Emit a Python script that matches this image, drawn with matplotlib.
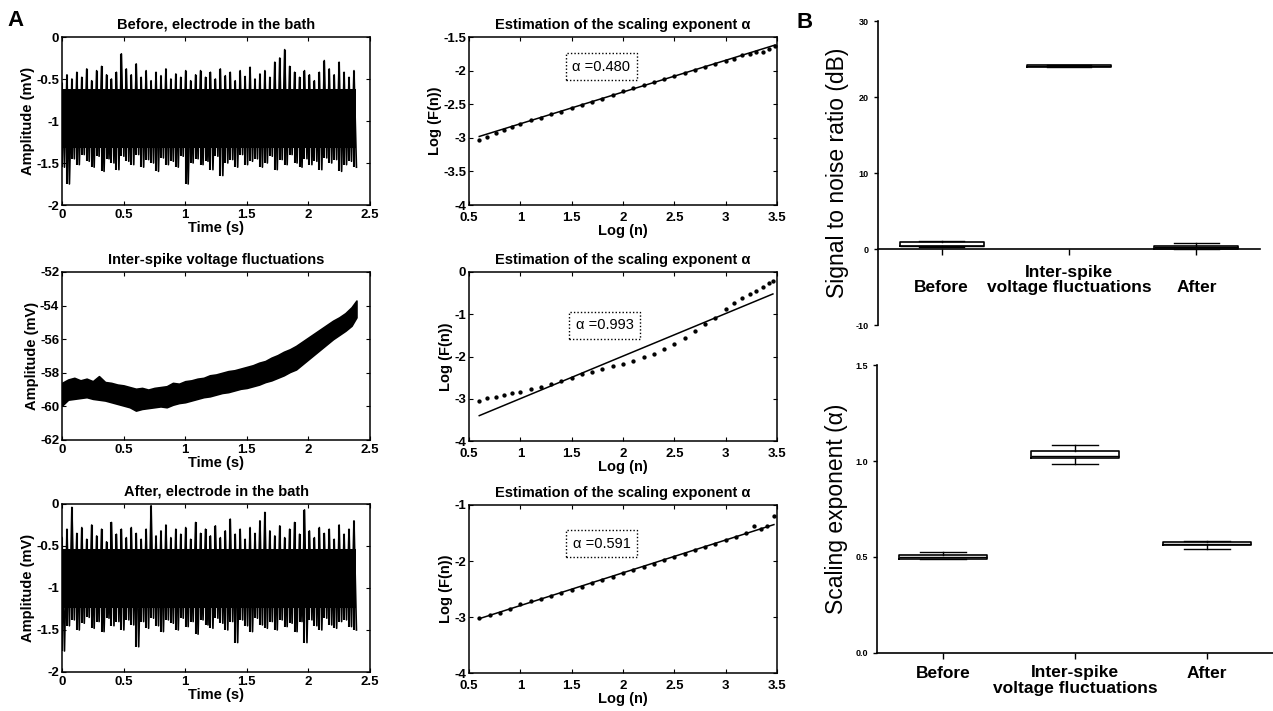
"""
Figure: noise traces + DFA scaling exponent (panel A), SNR / alpha box plots (panel B).
Values read off the reference picture.
"""
import matplotlib
matplotlib.use("Agg")
import matplotlib.pyplot as plt
import numpy as np

plt.rcParams["font.family"] = ["Liberation Sans", "DejaVu Sans"]

# ---- panel A, raw traces (mV) ----
TRACE_END = 2.39  # s
BEFORE_CORE = [-0.62, -1.32]
BEFORE_HI = [-0.55, -0.45, -0.50, -0.42, -0.48, -0.38, -0.52, -0.40, -0.35, -0.45,
             -0.50, -0.42, -0.20, -0.38, -0.45, -0.32, -0.48, -0.40, -0.52, -0.42,
             -0.46, -0.38, -0.50, -0.44, -0.48, -0.40, -0.52, -0.45, -0.40, -0.48,
             -0.42, -0.50, -0.38, -0.46, -0.42, -0.52, -0.40, -0.47, -0.36, -0.50,
             -0.44, -0.40, -0.48, -0.30, -0.25, -0.15, -0.35, -0.42, -0.48, -0.40,
             -0.45, -0.52, -0.42, -0.28, -0.38, -0.45, -0.30, -0.42, -0.48, -0.40]
BEFORE_LO = [-1.55, -1.75, -1.45, -1.52, -1.40, -1.48, -1.55, -1.42, -1.60, -1.45,
             -1.50, -1.58, -1.42, -1.48, -1.52, -1.40, -1.55, -1.46, -1.50, -1.60,
             -1.44, -1.52, -1.48, -1.55, -1.42, -1.75, -1.50, -1.45, -1.52, -1.48,
             -1.58, -1.42, -1.65, -1.50, -1.46, -1.55, -1.40, -1.52, -1.48, -1.45,
             -1.55, -1.50, -1.42, -1.58, -1.46, -1.52, -1.40, -1.50, -1.55, -1.45,
             -1.52, -1.48, -1.58, -1.44, -1.50, -1.46, -1.60, -1.52, -1.48, -1.55]

AFTER_CORE = [-0.53, -1.24]
AFTER_HI = [-0.40, -0.30, -0.04, -0.35, -0.28, -0.42, -0.25, -0.38, -0.30, -0.45,
            -0.22, -0.36, -0.30, -0.40, -0.28, -0.35, -0.42, -0.30, -0.02, -0.38,
            -0.32, -0.25, -0.40, -0.30, -0.36, -0.28, -0.42, -0.22, -0.35, -0.30,
            -0.38, -0.26, -0.40, -0.32, -0.18, -0.36, -0.30, -0.42, -0.28, -0.35,
            -0.20, -0.10, -0.32, -0.38, -0.26, -0.40, -0.30, -0.22, -0.36, -0.07,
            -0.32, -0.40, -0.28, -0.35, -0.30, -0.42, -0.25, -0.36, -0.30, -0.20]
AFTER_LO = [-1.75, -1.45, -1.38, -1.50, -1.42, -1.35, -1.48, -1.40, -1.52, -1.36,
            -1.45, -1.40, -1.50, -1.38, -1.44, -1.70, -1.40, -1.48, -1.36, -1.45,
            -1.52, -1.38, -1.42, -1.50, -1.36, -1.46, -1.40, -1.55, -1.38, -1.44,
            -1.48, -1.36, -1.42, -1.50, -1.40, -1.65, -1.38, -1.45, -1.52, -1.36,
            -1.44, -1.48, -1.40, -1.50, -1.38, -1.46, -1.42, -1.52, -1.40, -1.65,
            -1.38, -1.45, -1.50, -1.36, -1.44, -1.48, -1.40, -1.38, -1.46, -1.50]

# inter-spike trace, upper / lower envelope (mV)
ISI_T = [0.00, 0.05, 0.10, 0.15, 0.20, 0.25, 0.30, 0.35, 0.40, 0.45, 0.50, 0.55,
         0.60, 0.65, 0.70, 0.75, 0.80, 0.85, 0.90, 0.95, 1.00, 1.05, 1.10, 1.15,
         1.20, 1.25, 1.30, 1.35, 1.40, 1.45, 1.50, 1.55, 1.60, 1.65, 1.70, 1.75,
         1.80, 1.85, 1.90, 1.95, 2.00, 2.05, 2.10, 2.15, 2.20, 2.25, 2.30, 2.35, 2.39]
ISI_TOP = [-58.6, -58.4, -58.3, -58.45, -58.35, -58.5, -58.2, -58.55, -58.6, -58.7,
           -58.75, -58.85, -58.95, -58.9, -59.0, -58.9, -58.85, -58.8, -58.6, -58.65,
           -58.5, -58.45, -58.35, -58.3, -58.15, -58.1, -58.0, -57.9, -57.85, -57.75,
           -57.65, -57.55, -57.4, -57.3, -57.1, -56.95, -56.75, -56.6, -56.4, -56.15,
           -55.9, -55.65, -55.4, -55.15, -54.9, -54.7, -54.45, -54.1, -53.7]
ISI_BOT = [-59.95, -59.6, -59.55, -59.5, -59.45, -59.55, -59.6, -59.65, -59.75, -59.85,
           -59.95, -60.05, -60.25, -60.15, -60.1, -60.05, -60.0, -60.05, -59.9, -59.8,
           -59.75, -59.65, -59.55, -59.45, -59.4, -59.3, -59.2, -59.15, -59.05, -58.95,
           -58.9, -58.8, -58.7, -58.55, -58.45, -58.3, -58.15, -57.95, -57.8, -57.5,
           -57.2, -56.9, -56.6, -56.3, -56.0, -55.75, -55.5, -55.2, -54.7]

# ---- panel A, DFA: log(n) vs log(F(n)) ----
DFA1_X = [0.60, 0.68, 0.76, 0.84, 0.92, 1.00, 1.10, 1.20, 1.30, 1.40, 1.50, 1.60,
          1.70, 1.80, 1.90, 2.00, 2.10, 2.20, 2.30, 2.40, 2.50, 2.60, 2.70, 2.80,
          2.90, 3.00, 3.08, 3.16, 3.24, 3.30, 3.36, 3.42, 3.48]
DFA1_Y = [-3.04, -2.99, -2.93, -2.88, -2.84, -2.80, -2.74, -2.70, -2.65, -2.61,
          -2.56, -2.51, -2.47, -2.42, -2.37, -2.31, -2.26, -2.22, -2.17, -2.13,
          -2.08, -2.04, -1.99, -1.94, -1.90, -1.86, -1.82, -1.77, -1.76, -1.73,
          -1.72, -1.68, -1.64]
FIT1_X, FIT1_Y = [0.60, 3.48], [-2.98, -1.62]

DFA2_X = [0.60, 0.68, 0.76, 0.84, 0.92, 1.00, 1.10, 1.20, 1.30, 1.40, 1.50, 1.60,
          1.70, 1.80, 1.90, 2.00, 2.10, 2.20, 2.30, 2.40, 2.50, 2.60, 2.70, 2.80,
          2.90, 3.00, 3.08, 3.16, 3.24, 3.30, 3.36, 3.42, 3.46]
DFA2_Y = [-3.05, -2.99, -2.95, -2.91, -2.87, -2.83, -2.78, -2.72, -2.65, -2.57,
          -2.50, -2.42, -2.36, -2.30, -2.23, -2.17, -2.10, -2.02, -1.93, -1.83,
          -1.71, -1.56, -1.40, -1.24, -1.08, -0.88, -0.74, -0.62, -0.52, -0.45,
          -0.36, -0.27, -0.22]
FIT2_X, FIT2_Y = [0.60, 3.46], [-3.40, -0.52]

DFA3_X = [0.60, 0.70, 0.80, 0.90, 1.00, 1.10, 1.20, 1.30, 1.40, 1.50, 1.60, 1.70,
          1.80, 1.90, 2.00, 2.10, 2.20, 2.30, 2.40, 2.50, 2.60, 2.70, 2.80, 2.90,
          3.00, 3.10, 3.20, 3.28, 3.34, 3.40, 3.47]
DFA3_Y = [-3.02, -2.97, -2.92, -2.86, -2.77, -2.72, -2.67, -2.62, -2.57, -2.51,
          -2.46, -2.40, -2.34, -2.28, -2.22, -2.16, -2.10, -2.05, -1.99, -1.93,
          -1.87, -1.81, -1.75, -1.69, -1.63, -1.57, -1.50, -1.38, -1.43, -1.37,
          -1.20]
FIT3_X, FIT3_Y = [0.60, 3.47], [-3.03, -1.35]

ALPHA_TEXT = ["\u03b1 =0.480", "\u03b1 =0.993", "\u03b1 =0.591"]

# ---- panel B, box plot stats ----
GROUPS = ["Before", "Inter-spike\nvoltage fluctuations", "After"]
# signal to noise ratio (dB): whislo, q1, med, q3, whishi
SNR_STATS = [[0.25, 0.35, 0.45, 0.92, 1.05],
             [23.95, 24.0, 24.07, 24.15, 24.2],
             [0.00, 0.05, 0.20, 0.40, 0.85]]
# scaling exponent alpha
ALPHA_STATS = [[0.488, 0.490, 0.500, 0.512, 0.524],
               [0.986, 1.014, 1.028, 1.052, 1.083],
               [0.543, 0.560, 0.570, 0.579, 0.582]]

W, H = 1273, 711


def px_axes(fig, x0, y0, x1, y1):
    return fig.add_axes([x0 / W, 1 - y1 / H, (x1 - x0) / W, (y1 - y0) / H])


def style_matlab(ax, xpad=3):
    ax.tick_params(direction="in", top=True, right=True, length=3,
                   labelsize=9.5, pad=2)
    ax.tick_params(axis="x", pad=xpad)
    for lab in ax.get_xticklabels() + ax.get_yticklabels():
        lab.set_fontweight("bold")
    for s in ax.spines.values():
        s.set_linewidth(1.1)


def noise_panel(ax, hi, lo, core, title):
    t = np.linspace(0, TRACE_END, len(hi) * 2)
    zig = [v for pair in zip(hi, lo) for v in pair]
    ax.fill_between([0, TRACE_END], core[0], core[1], color="black", lw=0)
    ax.plot(t, zig, color="black", lw=1.2)
    ax.vlines(t[::2], lo, hi, color="black", lw=1.5)
    ax.set_xlim(0, 2.5)
    ax.set_ylim(-2, 0)
    ax.set_xticks([0, 0.5, 1, 1.5, 2, 2.5])
    ax.set_xticklabels(["0", "0.5", "1", "1.5", "2", "2.5"])
    ax.set_yticks([-2, -1.5, -1, -0.5, 0])
    ax.set_yticklabels(["-2", "-1.5", "-1", "-0.5", "0"])
    finish_a(ax, title, "Time (s)", "Amplitude (mV)")


def finish_a(ax, title, xlabel, ylabel, xpad=3):
    ax.set_title(title, fontsize=10.5, fontweight="bold", pad=6)
    ax.set_xlabel(xlabel, fontsize=10.5, fontweight="bold", labelpad=0)
    ax.set_ylabel(ylabel, fontsize=10.5, fontweight="bold", labelpad=1)
    style_matlab(ax, xpad)


def dfa_panel(ax, xs, ys, fx, fy, ylim, yticks, text, tpos):
    ax.plot(fx, fy, color="black", lw=1.1)
    ax.plot(xs, ys, ".", color="black", ms=4.2)
    ax.set_xlim(0.5, 3.5)
    ax.set_ylim(*ylim)
    ax.set_xticks([0.5, 1, 1.5, 2, 2.5, 3, 3.5])
    ax.set_xticklabels(["0.5", "1", "1.5", "2", "2.5", "3", "3.5"])
    ax.set_yticks(yticks)
    ax.set_yticklabels([f"{v:g}" for v in yticks])
    ax.text(tpos[0], tpos[1], text, transform=ax.transAxes, ha="center",
            va="center", fontsize=10.5,
            bbox=dict(boxstyle="square,pad=0.45", fc="white", ec="black",
                      ls=(0, (1, 1.5)), lw=1.0))
    finish_a(ax, "Estimation of the scaling exponent \u03b1", "Log (n)",
             "Log (F(n))", xpad=5)


def box_panel(ax, stats, ylim, yticks, ylabel, labels_on_bottom):
    if labels_on_bottom:
        ax.spines["bottom"].set_position(("data", 0))
    bx = [dict(whislo=s[0], q1=s[1], med=s[2], q3=s[3], whishi=s[4], fliers=[])
          for s in stats]
    ax.bxp(bx, positions=range(len(stats)), widths=0.66, showfliers=False,
           boxprops=dict(color="black", lw=1.2),
           medianprops=dict(color="black", lw=1.0),
           whiskerprops=dict(color="black", lw=1.0),
           capprops=dict(color="black", lw=1.0), capwidths=0.35)
    ax.set_xlim(-0.5, 2.5)
    ax.set_ylim(*ylim)
    ax.set_yticks(yticks)
    for s in ["top", "right"]:
        ax.spines[s].set_visible(False)
    ax.spines["left"].set_linewidth(1.2)
    ax.spines["bottom"].set_linewidth(1.2)
    ax.tick_params(axis="y", direction="out", length=3, width=1, labelsize=6.5)
    ax.set_ylabel(ylabel, fontsize=16.5, labelpad=5)
    ax.set_xticks(range(len(GROUPS)))
    if labels_on_bottom:
        ax.tick_params(axis="x", direction="out", length=4, width=1, pad=29)
        ax.set_xticklabels(GROUPS, fontsize=12.5, fontweight="bold",
                           va="bottom", linespacing=1.0)
    else:
        ax.tick_params(axis="x", direction="out", length=4, width=1, pad=5)
        ax.set_xticklabels(GROUPS, fontsize=12.5, fontweight="bold",
                           va="top", linespacing=1.0)


def main():
    fig = plt.figure(figsize=(W / 100, H / 100), dpi=100)

    # column A left
    ax = px_axes(fig, 62, 37, 370, 205)
    noise_panel(ax, BEFORE_HI, BEFORE_LO, BEFORE_CORE, "Before, electrode in the bath")

    ax = px_axes(fig, 62, 272, 370, 440)
    ax.fill_between(ISI_T, ISI_BOT, ISI_TOP, color="black", lw=1.2, edgecolor="black")
    ax.set_xlim(0, 2.5)
    ax.set_ylim(-62, -52)
    ax.set_xticks([0, 0.5, 1, 1.5, 2, 2.5])
    ax.set_xticklabels(["0", "0.5", "1", "1.5", "2", "2.5"])
    ax.set_yticks([-62, -60, -58, -56, -54, -52])
    ax.set_yticklabels(["-62", "-60", "-58", "-56", "-54", "-52"])
    finish_a(ax, "Inter-spike voltage fluctuations", "Time (s)", "Amplitude (mV)")

    ax = px_axes(fig, 62, 504, 370, 672)
    noise_panel(ax, AFTER_HI, AFTER_LO, AFTER_CORE, "After, electrode in the bath")

    # column A right
    ax = px_axes(fig, 469, 37, 777, 205)
    dfa_panel(ax, DFA1_X, DFA1_Y, FIT1_X, FIT1_Y, (-4, -1.5),
              [-4, -3.5, -3, -2.5, -2, -1.5], ALPHA_TEXT[0], (0.43, 0.824))
    ax = px_axes(fig, 469, 272, 777, 441)
    dfa_panel(ax, DFA2_X, DFA2_Y, FIT2_X, FIT2_Y, (-4, 0),
              [-4, -3, -2, -1, 0], ALPHA_TEXT[1], (0.44, 0.684))
    ax = px_axes(fig, 469, 505, 777, 673)
    dfa_panel(ax, DFA3_X, DFA3_Y, FIT3_X, FIT3_Y, (-4, -1),
              [-4, -3, -2, -1], ALPHA_TEXT[2], (0.43, 0.77))

    # panel B
    ax = px_axes(fig, 878, 21, 1260, 325)
    box_panel(ax, SNR_STATS, (-10, 30), [-10, 0, 10, 20, 30],
              "Signal to noise ratio (dB)", True)
    ax.set_yticklabels(["-10", "0", "10", "20", "30"], fontweight="bold")

    ax = px_axes(fig, 877, 365, 1273, 653)
    box_panel(ax, ALPHA_STATS, (0, 1.5), [0.0, 0.5, 1.0, 1.5],
              "Scaling exponent (\u03b1)", False)
    ax.set_yticklabels(["0.0", "0.5", "1.0", "1.5"], fontweight="bold")

    fig.text(16 / W, 1 - 20 / H, "A", fontsize=16, fontweight="bold",
             ha="center", va="center")
    fig.text(805 / W, 1 - 22 / H, "B", fontsize=16, fontweight="bold",
             ha="center", va="center")

    fig.savefig("out.png", dpi=100)
    plt.close(fig)


if __name__ == "__main__":
    main()
